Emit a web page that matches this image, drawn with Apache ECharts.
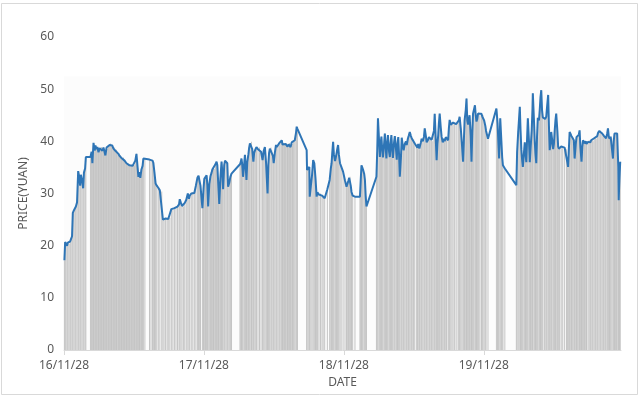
<!DOCTYPE html>
<html>
<head>
<meta charset="utf-8">
<script src="https://cdn.jsdelivr.net/npm/echarts@6/dist/echarts.min.js"></script>
<style>html,body{margin:0;padding:0;background:#fff}#c{width:640px;height:397px}</style>
</head>
<body>
<div id="c"></div>
<script>
// Days counted from 2016-11-28 (the first x-axis tick)
const startDate = [2016, 10, 28];
const tickDays = [0, 365, 730, 1095];
const yTicks = [0, 10, 20, 30, 40, 50, 60];
const days = [1,3,5,8,10,13,16,18,21,23,26,29,31,34,37,39,42,44,47,50,52,55,57,69,72,74,77,80,82,85,87,90,93,95,98,100,103,106,108,111,113,116,119,121,124,126,129,132,134,137,139,142,145,147,150,153,155,158,160,163,166,168,171,173,176,179,181,184,186,189,192,194,197,199,202,205,207,211,223,227,231,233,236,239,242,246,250,255,258,261,265,269,272,276,280,284,288,292,296,300,302,305,308,312,315,319,323,326,328,332,336,340,344,348,351,353,356,361,364,366,369,372,374,376,379,382,385,387,390,392,395,398,400,403,405,408,411,413,415,418,420,423,426,428,431,434,437,459,461,463,465,467,470,472,474,476,478,481,483,485,488,489,491,494,496,499,502,506,510,514,518,521,524,527,529,531,533,535,537,540,542,545,547,550,553,555,558,561,563,566,568,570,573,575,578,581,583,586,588,591,594,596,599,602,605,607,609,633,634,637,640,641,644,647,650,653,656,659,661,665,669,673,676,680,687,693,696,698,700,702,704,707,709,711,713,715,717,720,723,728,733,737,739,742,744,746,748,750,753,759,772,774,776,778,780,783,785,787,789,815,817,819,822,824,826,828,830,832,835,837,839,841,843,845,848,850,852,854,856,858,861,863,866,868,870,872,874,876,879,881,884,886,889,892,894,897,899,902,905,907,910,912,915,920,922,924,927,928,931,933,936,939,941,944,946,949,952,954,957,959,962,965,967,970,972,974,976,978,980,983,985,988,991,993,996,998,1002,1004,1006,1009,1012,1015,1019,1023,1028,1030,1032,1035,1038,1041,1043,1045,1048,1050,1052,1054,1056,1058,1061,1063,1065,1067,1069,1072,1074,1076,1078,1080,1082,1085,1089,1091,1093,1096,1099,1101,1106,1128,1131,1133,1135,1138,1141,1143,1145,1150,1180,1182,1185,1189,1191,1193,1195,1197,1200,1202,1204,1206,1208,1210,1213,1215,1217,1220,1222,1223,1226,1228,1230,1232,1234,1236,1239,1241,1243,1245,1247,1249,1253,1255,1258,1260,1263,1265,1267,1270,1271,1273,1276,1278,1280,1282,1284,1287,1289,1291,1293,1297,1301,1306,1311,1313,1315,1317,1319,1322,1324,1327,1330,1332,1335,1337,1340,1343,1345,1347,1350,1352,1354,1356,1358,1361,1363,1367,1370,1373,1375,1378,1380,1383,1386,1388,1391,1393,1396,1399,1401,1404,1407,1409,1412,1414,1417,1419,1421,1423,1426,1429,1432,1434,1436,1439,1441,1443,1446,1447,1448,1449,1451];
const prices = [17.2,20.7,20.5,20.0,20.6,20.3,20.8,21.2,21.8,26.3,26.8,27.0,27.5,28.3,34.3,33.5,31.5,33.6,32.5,31.0,34.0,34.8,37.0,37.0,38.0,35.8,39.7,38.2,39.2,38.5,38.9,37.9,38.7,38.4,38.9,38.2,38.8,38.5,37.3,38.8,38.6,38.9,39.3,39.6,39.1,39.2,38.6,38.8,38.2,38.4,37.9,37.6,37.2,37.4,36.8,36.6,36.9,36.3,36.0,35.8,35.6,35.7,35.4,35.5,35.5,35.3,35.6,35.4,36.3,37.6,35.0,33.2,34.1,33.0,34.6,35.3,36.7,36.6,36.5,36.4,36.3,35.9,34.0,31.9,31.5,31.1,30.6,30.4,25.0,24.9,25.2,25.2,25.1,25.3,27.0,27.1,27.2,27.3,27.5,27.9,28.9,28.2,27.6,27.5,28.2,28.8,30.0,29.0,29.6,30.0,30.3,30.1,31.5,33.0,33.4,32.6,31.5,27.2,31.0,32.8,33.0,33.5,31.5,27.5,31.8,33.3,34.0,34.6,35.0,34.7,35.6,36.1,35.4,31.0,28.0,33.0,36.1,34.0,30.8,35.5,36.3,36.1,35.8,31.3,32.0,33.2,33.8,35.6,36.0,36.7,35.5,33.2,35.6,37.4,35.0,32.6,36.0,37.5,38.8,39.6,39.4,39.9,38.5,36.1,37.8,38.4,38.9,38.5,38.8,38.0,36.4,38.2,38.9,36.0,33.0,30.0,35.5,37.8,38.6,38.8,38.3,37.2,35.8,37.8,39.3,38.9,39.2,39.6,39.9,39.7,40.2,39.4,39.7,39.3,39.5,39.6,39.0,39.4,39.7,38.9,39.8,39.5,39.9,40.2,41.5,42.8,42.4,38.3,34.5,34.8,35.1,29.4,31.5,33.5,36.4,35.8,33.0,29.4,30.2,29.8,30.0,29.6,29.4,29.1,30.8,32.6,34.8,35.8,38.0,39.9,37.5,36.2,36.9,37.7,38.6,39.3,37.5,35.8,35.2,34.2,32.5,31.3,31.5,32.5,33.0,33.2,31.5,30.3,29.6,29.4,29.4,32.5,35.4,35.0,34.6,33.8,32.6,29.5,27.5,33.2,38.0,44.4,40.0,37.0,39.5,40.9,38.5,36.9,39.5,41.5,39.0,36.7,39.5,41.2,38.0,37.0,39.6,41.2,38.5,36.8,39.8,41.0,38.5,36.5,39.5,40.8,37.5,33.2,37.0,40.7,39.0,38.3,39.5,40.0,39.3,40.5,41.0,41.8,41.0,40.6,40.2,40.4,39.6,39.3,38.8,39.5,38.6,38.3,39.8,40.5,40.0,40.9,42.5,41.0,39.8,40.2,40.8,40.6,40.5,40.3,40.0,42.0,45.3,40.0,36.4,39.5,41.0,43.5,45.3,42.5,40.9,39.8,40.5,40.0,40.8,40.5,40.2,42.5,44.1,43.2,43.5,43.6,43.5,43.3,43.4,44.0,44.7,42.5,39.5,36.1,40.0,44.0,46.0,48.2,44.0,43.2,44.2,45.0,41.0,36.1,41.5,45.3,45.5,46.9,45.0,43.8,44.3,45.3,45.6,45.0,45.3,44.8,45.0,44.0,43.0,42.0,40.5,46.3,43.5,40.0,36.7,44.4,40.0,37.0,35.4,34.8,31.6,38.0,42.0,46.6,42.0,38.5,36.5,35.1,38.0,39.8,37.5,36.0,40.5,44.4,40.0,36.0,38.5,42.0,46.0,49.2,44.0,40.0,37.5,35.8,41.0,44.5,44.0,46.0,48.5,49.8,46.0,44.6,44.5,44.3,44.7,46.5,48.9,43.0,38.3,40.0,41.8,40.5,38.5,39.5,42.0,44.0,45.3,42.0,39.0,38.6,38.8,39.0,38.8,38.8,38.5,36.0,35.1,38.5,41.8,41.5,41.0,40.8,40.2,36.7,39.5,40.8,41.0,41.3,42.1,39.0,36.1,39.0,40.2,40.0,39.6,40.0,39.5,39.9,40.2,39.8,40.2,40.5,40.0,40.6,40.8,40.5,41.0,41.6,42.0,42.1,41.7,41.5,41.2,41.0,40.8,40.6,41.5,42.5,41.0,40.5,40.9,40.6,36.7,40.0,41.5,41.2,41.6,41.5,35.0,28.7,31.0,33.0,36.1];

const points = days.map((d, i) => [d, prices[i]]);
const base = Date.UTC(startDate[0], startDate[1], startDate[2]);
function fmtDay(v) {
  const dt = new Date(base + v * 86400000);
  const p = n => String(n).padStart(2, '0');
  return p(dt.getUTCFullYear() % 100) + '/' + p(dt.getUTCMonth() + 1) + '/' + p(dt.getUTCDate());
}
const txt = '#595959';
const font = 'Noto Sans';
const chart = echarts.init(document.getElementById('c'), null, {renderer: 'canvas'});
chart.setOption({
  animation: false,
  backgroundColor: '#ffffff',
  graphic: [{
    type: 'rect', silent: true, z: 100,
    shape: {x: 1.5, y: 3.5, width: 636, height: 391},
    style: {fill: 'none', stroke: '#d9d9d9', lineWidth: 1}
  }],
  grid: {left: 64, right: 19, top: 37, bottom: 47},
  xAxis: {
    type: 'value', min: 0, max: 1453, interval: 365,
    name: 'DATE', nameLocation: 'middle', nameGap: 26,
    nameTextStyle: {color: txt, fontSize: 12, fontFamily: font},
    axisLine: {show: true, lineStyle: {color: '#d9d9d9', width: 1}},
    axisTick: {show: true, length: 5, lineStyle: {color: '#d9d9d9'}, customValues: tickDays},
    axisLabel: {color: txt, fontSize: 12, fontFamily: font, margin: 10, customValues: tickDays, formatter: fmtDay},
    splitLine: {show: false}
  },
  yAxis: {
    type: 'value', min: 0, max: 60, interval: 10,
    name: 'PRICE(YUAN)', nameLocation: 'middle', nameGap: 31, nameRotate: 90,
    nameTextStyle: {color: txt, fontSize: 12, fontFamily: font},
    axisLine: {show: false}, axisTick: {show: false},
    axisLabel: {color: txt, fontSize: 12, fontFamily: font, margin: 10, customValues: yTicks},
    splitLine: {show: false}
  },
  series: [{
    type: 'bar', data: points, barWidth: 1, silent: true,
    itemStyle: {color: '#c4c4c4'},
    markArea: {silent: true, itemStyle: {color: '#fcfcfc'}, data: [[{yAxis: 0, xAxis: 0}, {yAxis: 52.5, xAxis: 1453}]]},
    z: 1
  }, {
    type: 'line', data: points, showSymbol: false, silent: true,
    lineStyle: {color: '#2e75b6', width: 2}, z: 3
  }]
});
</script>
</body>
</html>
